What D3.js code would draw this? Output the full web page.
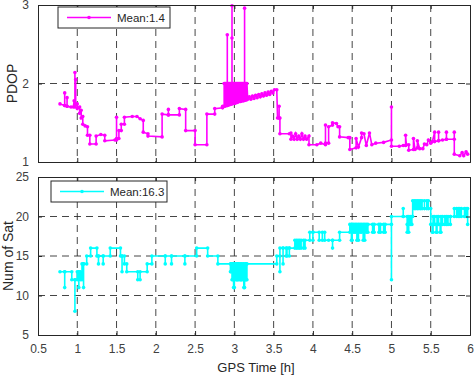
<!DOCTYPE html>
<html>
<head>
<meta charset="utf-8">
<script src="https://cdn.jsdelivr.net/npm/d3@7"></script>
<style>
  body { margin: 0; background: #fff; }
  svg { font-family: "Liberation Sans", Arial, sans-serif; }
</style>
</head>
<body>
<svg id="chart" width="474" height="375"></svg>
<script>
// data: [GPS time (h), value]
const pdopPoints = [
  [0.78,1.74],[0.84,1.72],[0.84,1.88],[0.84,1.72],[0.87,1.71],[0.87,1.82],[0.87,1.71],[0.92,1.70],
  [0.95,1.70],[0.96,1.78],[0.97,1.70],[0.97,2.14],[0.97,1.72],[0.98,2.05],[0.98,1.74],[1.0,1.74],
  [1.0,1.68],[1.03,1.70],[1.03,1.62],[1.05,1.66],[1.05,1.56],[1.07,1.58],[1.07,1.48],[1.10,1.46],
  [1.13,1.45],[1.13,1.34],[1.16,1.34],[1.16,1.23],[1.24,1.23],[1.24,1.33],[1.30,1.35],[1.35,1.34],
  [1.35,1.27],[1.48,1.28],[1.5,1.28],[1.5,1.57],[1.5,1.30],[1.53,1.30],[1.53,1.40],[1.56,1.40],
  [1.56,1.48],[1.6,1.48],[1.6,1.57],[1.7,1.58],[1.76,1.58],[1.8,1.55],[1.84,1.53],[1.84,1.38],
  [1.9,1.36],[1.9,1.33],[2.08,1.32],[2.08,1.61],[2.16,1.60],[2.16,1.67],[2.16,1.60],[2.3,1.60],
  [2.3,1.68],[2.38,1.67],[2.38,1.40],[2.5,1.40],[2.5,1.22],[2.65,1.22],[2.65,1.61],[2.75,1.61],
  [2.75,1.68],[2.85,1.69],[2.85,1.71],[2.87,1.71],[2.87,2.0],[2.88,2.0],[2.88,1.71],[2.89,1.72],
  [2.89,2.0],[2.90,2.0],[2.90,1.72],[2.91,1.72],[2.91,2.62],[2.91,1.72],[2.92,1.73],[2.92,2.0],
  [2.93,2.0],[2.93,1.73],[2.94,1.73],[2.94,2.0],[2.95,2.0],[2.95,1.74],[2.96,1.74],[2.96,2.0],
  [2.97,2.0],[2.97,2.99],[2.97,2.58],[2.97,1.74],[2.98,1.75],[2.98,2.0],[2.99,2.0],[2.99,1.75],
  [3.00,1.75],[3.00,2.0],[3.01,2.0],[3.01,1.75],[3.02,1.76],[3.02,2.0],[3.03,2.0],[3.03,1.76],
  [3.04,1.76],[3.04,2.0],[3.05,2.0],[3.05,1.77],[3.06,1.77],[3.06,2.0],[3.07,2.0],[3.07,1.77],
  [3.08,1.77],[3.08,2.0],[3.09,2.0],[3.09,1.78],[3.10,1.78],[3.10,2.0],[3.11,2.0],[3.11,1.78],
  [3.12,1.78],[3.12,2.0],[3.13,2.0],[3.13,2.96],[3.13,1.79],[3.14,1.79],[3.14,2.0],[3.15,2.0],
  [3.15,1.79],[3.16,1.80],[3.16,2.0],[3.17,1.80],[3.19,1.83],[3.21,1.80],[3.23,1.84],[3.25,1.81],
  [3.27,1.85],[3.29,1.82],[3.31,1.86],[3.33,1.83],[3.35,1.87],[3.37,1.84],[3.39,1.88],[3.41,1.85],
  [3.43,1.89],[3.45,1.86],[3.47,1.90],[3.49,1.88],[3.51,1.92],[3.54,1.92],
  [3.55,1.56],[3.57,1.56],[3.57,1.71],[3.57,1.56],[3.58,1.56],[3.58,1.36],[3.7,1.36],[3.72,1.37],
  [3.72,1.29],[3.74,1.33],[3.76,1.29],[3.78,1.36],[3.8,1.29],[3.82,1.33],[3.84,1.29],[3.86,1.36],
  [3.88,1.29],[3.9,1.33],[3.92,1.29],[3.95,1.33],
  [3.95,1.22],[4.05,1.22],[4.1,1.24],[4.16,1.22],[4.16,1.47],[4.16,1.24],[4.2,1.24],[4.2,1.45],
  [4.25,1.47],[4.25,1.5],[4.3,1.49],[4.32,1.45],[4.34,1.45],[4.34,1.32],[4.45,1.31],[4.47,1.31],
  [4.47,1.16],[4.55,1.18],[4.55,1.30],[4.58,1.19],[4.62,1.31],[4.62,1.37],[4.65,1.36],[4.68,1.21],
  [4.72,1.37],[4.75,1.22],[4.8,1.24],[4.9,1.25],[5.0,1.28],[5.0,1.70],[5.0,1.20],[5.1,1.20],
  [5.15,1.21],[5.18,1.21],[5.18,1.34],[5.19,1.22],[5.22,1.22],[5.22,1.15],[5.28,1.16],[5.28,1.30],
  [5.3,1.16],[5.33,1.18],[5.33,1.27],[5.36,1.17],[5.4,1.17],[5.42,1.23],[5.45,1.22],[5.47,1.28],
  [5.5,1.24],[5.52,1.26],[5.55,1.38],[5.55,1.26],[5.6,1.27],[5.6,1.38],[5.6,1.27],[5.65,1.28],
  [5.7,1.29],[5.7,1.38],[5.7,1.29],[5.8,1.29],[5.8,1.38],[5.8,1.1],[5.87,1.08],[5.9,1.12],
  [5.92,1.08],[5.95,1.13],[5.97,1.10]
]

const satPoints = [
  [0.78,13],[0.84,13],[0.84,11],[0.84,13],[0.93,13],[0.93,12],[0.97,12],[0.97,8],[0.97,12],
  [1.0,12],[1.0,13],[1.02,13],[1.02,11],[1.02,13],[1.04,13],[1.04,12],[1.06,12],[1.06,14],
  [1.08,14],[1.08,11],[1.08,14],[1.12,14],[1.12,15],[1.17,15],[1.17,16],[1.25,16],[1.25,15],
  [1.27,15],[1.27,14],[1.27,15],[1.33,15],[1.33,14],[1.33,15],[1.42,15],[1.42,16],[1.55,16],
  [1.55,15],[1.57,15],[1.57,13],[1.57,15],[1.6,15],[1.6,14],[1.63,14],[1.63,13],[1.77,13],
  [1.77,12],[1.8,12],[1.8,13],[1.89,13],[1.89,14],[1.95,14],[1.95,15],[2.12,15],[2.12,14],
  [2.12,15],[2.2,15],[2.2,14],[2.2,15],[2.37,15],[2.37,14],[2.37,15],[2.52,15],[2.52,16],
  [2.66,16],[2.66,15],[2.79,15],[2.79,14],[2.95,14],[2.95,13],[2.96,13],[2.96,14],[2.97,14],
  [2.97,12],[2.98,12],[2.98,14],[2.99,14],[2.99,11],[3.0,11],[3.0,14],[3.01,14],[3.01,13],
  [3.02,13],[3.02,12],[3.03,12],[3.03,14],[3.04,14],[3.04,12],[3.05,12],[3.05,14],[3.06,14],
  [3.06,13],[3.07,13],[3.07,12],[3.08,12],[3.08,14],[3.09,14],[3.09,12],[3.10,12],[3.10,13],
  [3.11,13],[3.11,14],[3.12,14],[3.12,11],[3.13,11],[3.13,12],[3.14,12],[3.14,14],[3.15,14],
  [3.15,12],[3.16,12],[3.16,14],[3.54,14],[3.54,15],[3.58,15],[3.58,13],[3.58,16],[3.62,16],
  [3.62,14],[3.62,16],[3.66,16],[3.66,15],[3.67,15],[3.67,16],[3.7,16],[3.7,15],[3.7,16],
  [3.77,16],[3.77,17],[3.79,17],[3.79,16],[3.81,16],[3.81,17],[3.83,17],[3.83,16],[3.85,16],
  [3.85,17],[3.88,17],[3.88,16],[3.9,16],[3.9,17],[3.96,17],[3.96,18],[4.0,18],[4.0,17],
  [4.0,18],[4.08,18],[4.08,17],[4.12,17],[4.12,18],[4.15,18],[4.15,17],[4.2,17],[4.25,17],
  [4.25,16],[4.25,17],[4.34,17],[4.34,18],[4.47,18],[4.47,19],[4.49,19],[4.49,17],[4.5,17],
  [4.5,19],[4.52,19],[4.52,18],[4.54,18],[4.54,19],[4.56,19],[4.56,17],[4.58,17],[4.58,19],
  [4.6,19],[4.6,18],[4.62,18],[4.62,19],[4.64,19],[4.64,17],[4.66,17],[4.66,19],[4.68,19],
  [4.68,18],[4.7,18],[4.7,19],[4.76,19],[4.76,18],[4.78,18],[4.78,19],[4.84,19],[4.84,18],
  [4.86,18],[4.86,19],[4.9,19],[4.9,18],[4.92,18],[4.92,19],[5.0,19],[5.0,12],[5.0,20],
  [5.15,20],[5.15,21],[5.15,20],[5.2,20],[5.2,19],[5.2,18],[5.22,18],[5.22,20],[5.24,20],
  [5.24,19],[5.26,19],[5.26,20],[5.27,20],[5.27,22],[5.29,22],[5.29,21],[5.31,21],[5.31,22],
  [5.33,22],[5.33,21],[5.35,21],[5.35,22],[5.37,22],[5.37,21],[5.39,21],[5.39,22],[5.42,22],
  [5.42,21],[5.45,21],[5.45,22],[5.47,22],[5.47,21],[5.5,21],[5.5,19],[5.52,19],[5.52,18],
  [5.53,18],[5.53,20],[5.55,20],[5.55,19],[5.57,19],[5.57,18],[5.58,18],[5.58,20],[5.6,20],
  [5.6,19],[5.62,19],[5.62,18],[5.63,18],[5.63,20],[5.65,20],[5.65,19],[5.68,19],[5.68,20],
  [5.7,20],[5.7,19],[5.72,19],[5.72,20],[5.75,20],[5.75,19],[5.75,20],[5.8,20],[5.8,21],
  [5.83,21],[5.83,20],[5.85,20],[5.85,21],[5.87,21],[5.87,20],[5.89,20],[5.89,21],[5.93,21],
  [5.93,20],[5.95,20],[5.95,21],[5.97,21],[5.97,19]
]

const xTicks = [0.5, 1, 1.5, 2, 2.5, 3, 3.5, 4, 4.5, 5, 5.5, 6]
const pdopTicks = [1, 2, 3]
const satTicks = [5, 10, 15, 20, 25]
const pdopLegend = 'Mean:1.4'
const satLegend = 'Mean:16.3'

const svg = d3.select('#chart')
const left = 38
const right = 470
const axisColor = '#262626'

const x = d3.scaleLinear().domain([0.5, 6]).range([left, right])

function drawPanel (points, yDomain, yTicks, top, bottom, color, yLabel, labelX, legendText, legendBox) {
  const y = d3.scaleLinear().domain(yDomain).range([bottom, top])
  const g = svg.append('g')

  // dashed grid
  g.selectAll('.vgrid')
    .data(xTicks.slice(1, -1))
    .join('line')
    .attr('x1', d => x(d)).attr('x2', d => x(d))
    .attr('y1', top).attr('y2', bottom)
    .attr('stroke', axisColor).attr('stroke-width', 1)
    .attr('stroke-dasharray', '7,5').attr('opacity', 0.85)
  g.selectAll('.hgrid')
    .data(yTicks.slice(1, -1))
    .join('line')
    .attr('x1', left).attr('x2', right)
    .attr('y1', d => y(d)).attr('y2', d => y(d))
    .attr('stroke', axisColor).attr('stroke-width', 1)
    .attr('stroke-dasharray', '7,5').attr('opacity', 0.85)

  // series
  const line = d3.line().x(d => x(d[0])).y(d => y(d[1]))
  g.append('path')
    .datum(points)
    .attr('d', line)
    .attr('fill', 'none')
    .attr('stroke', color)
    .attr('stroke-width', 1.6)
  g.selectAll('.dot')
    .data(points)
    .join('circle')
    .attr('cx', d => x(d[0]))
    .attr('cy', d => y(d[1]))
    .attr('r', 1.8)
    .attr('fill', color)

  // axes, ticks pointing inward
  g.append('g')
    .attr('transform', `translate(0,${bottom})`)
    .call(d3.axisBottom(x).tickValues(xTicks).tickSize(-4).tickPadding(9)
      .tickFormat(d => bottom > 200 ? d3.format('~g')(d) : ''))
  g.append('g')
    .attr('transform', `translate(0,${top})`)
    .call(d3.axisTop(x).tickValues(xTicks).tickSize(-4).tickFormat(''))
  g.append('g')
    .attr('transform', `translate(${left},0)`)
    .call(d3.axisLeft(y).tickValues(yTicks).tickSize(-4).tickPadding(9).tickFormat(d3.format('~g')))
  g.append('g')
    .attr('transform', `translate(${right},0)`)
    .call(d3.axisRight(y).tickValues(yTicks).tickSize(-4).tickFormat(''))
  g.selectAll('.domain').attr('stroke', axisColor)
  g.selectAll('.tick line').attr('stroke', axisColor)
  g.selectAll('.tick text').attr('fill', '#404040').style('font-size', '12px')

  // y label
  g.append('text')
    .attr('transform', `translate(${labelX},${(top + bottom) / 2}) rotate(-90)`)
    .attr('text-anchor', 'middle')
    .attr('fill', axisColor)
    .style('font-size', '14px')
    .text(yLabel)

  // legend
  const lg = g.append('g')
  lg.append('rect')
    .attr('x', legendBox[0]).attr('y', legendBox[1])
    .attr('width', legendBox[2]).attr('height', legendBox[3])
    .attr('fill', '#fff').attr('stroke', axisColor)
  const ly = legendBox[1] + legendBox[3] / 2
  lg.append('line')
    .attr('x1', legendBox[0] + 9).attr('x2', legendBox[0] + 53)
    .attr('y1', ly).attr('y2', ly)
    .attr('stroke', color).attr('stroke-width', 1.5)
  lg.append('circle')
    .attr('cx', legendBox[0] + 31).attr('cy', ly).attr('r', 1.8).attr('fill', color)
  lg.append('text')
    .attr('x', legendBox[0] + 59).attr('y', ly + 4)
    .attr('fill', axisColor)
    .style('font-size', '11.5px')
    .text(legendText)
}

drawPanel(pdopPoints, [1, 3], pdopTicks, 5, 162, '#ff00ff', 'PDOP', 17, pdopLegend, [58, 7, 112, 21])
drawPanel(satPoints, [5, 25], satTicks, 177, 335, '#00ffff', 'Num of Sat', 13, satLegend, [51, 181, 116, 21])

svg.append('text')
  .attr('x', 256)
  .attr('y', 372)
  .attr('text-anchor', 'middle')
  .attr('fill', axisColor)
  .style('font-size', '13px')
  .text('GPS Time [h]')
</script>
</body>
</html>
